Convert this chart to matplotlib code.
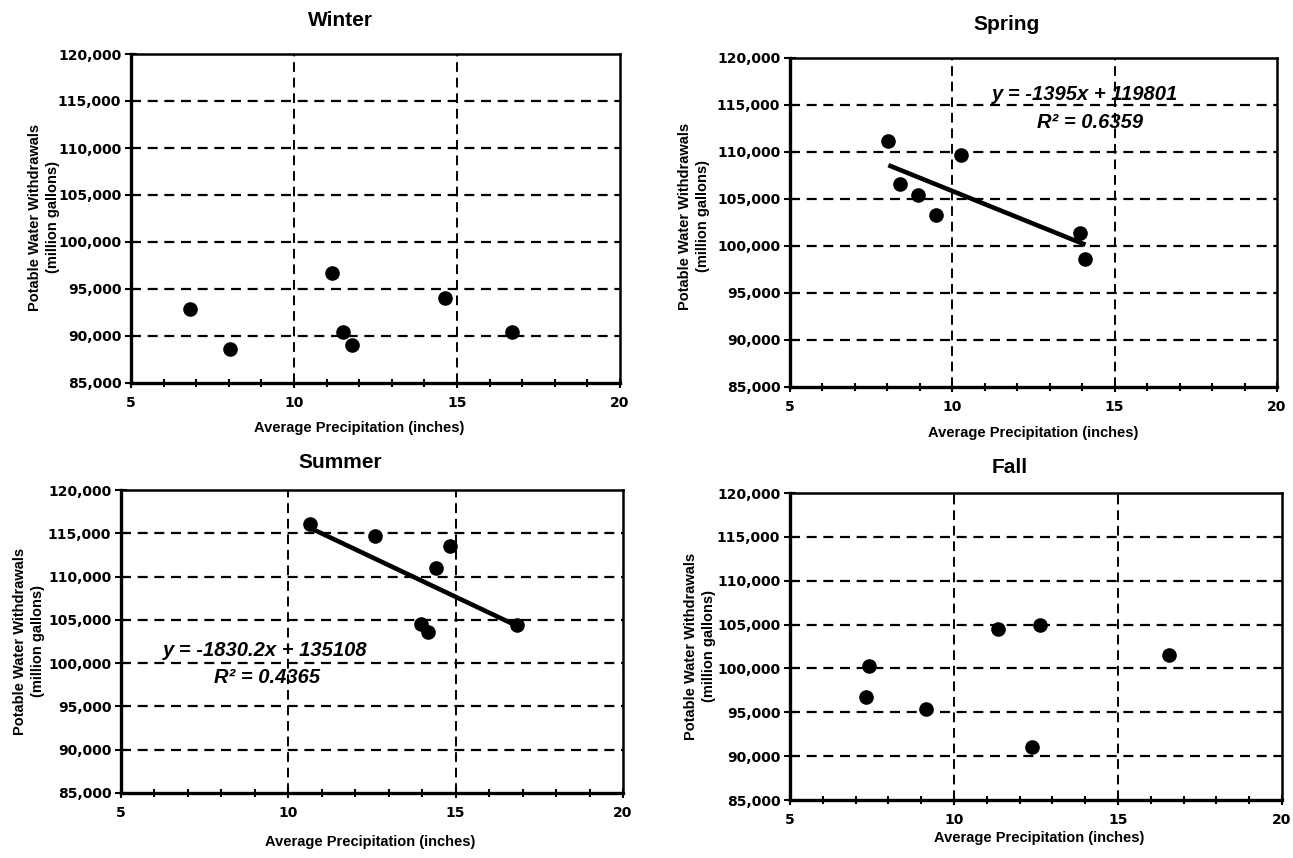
import matplotlib.pyplot as plt
from matplotlib.ticker import MultipleLocator

# Seasonal precipitation (inches) vs potable water withdrawals (million gallons)
winter_precip = [6.81, 8.05, 11.16, 11.51, 11.77, 14.63, 16.69]
winter_withdrawals = [92900, 88600, 96700, 90450, 89000, 94000, 90400]

spring_precip = [8.03, 8.40, 8.95, 9.51, 10.26, 13.93, 14.10]
spring_withdrawals = [111200, 106600, 105400, 103300, 109700, 101350, 98600]

summer_precip = [10.66, 12.59, 13.96, 14.17, 14.42, 14.83, 16.83]
summer_withdrawals = [116100, 114650, 104500, 103550, 111000, 113550, 104400]

fall_precip = [7.41, 7.31, 9.16, 11.33, 12.63, 12.39, 16.55]
fall_withdrawals = [100300, 96700, 95400, 104550, 104900, 91050, 101550]

# Linear trend lines (slope, intercept, R^2)
spring_fit = (-1395, 119801, 0.6359)
summer_fit = (-1830.2, 135108, 0.4365)

y_ticks = [85000, 90000, 95000, 100000, 105000, 110000, 115000, 120000]
y_tick_labels = ["85,000", "90,000", "95,000", "100,000", "105,000", "110,000", "115,000", "120,000"]
x_ticks = [5, 10, 15, 20]

W, H = 1293, 858
fig = plt.figure(figsize=(W / 100, H / 100), dpi=100)

arial = ["Liberation Sans", "DejaVu Sans"]


def box(left, right, top, bottom):
    return [left / W, 1 - bottom / H, (right - left) / W, (bottom - top) / H]


def setup(ax):
    ax.set_xlim(5, 20)
    ax.set_ylim(85000, 120000)
    ax.set_xticks(x_ticks)
    ax.set_xticklabels([str(t) for t in x_ticks])
    ax.xaxis.set_minor_locator(MultipleLocator(1))
    ax.set_yticks(y_ticks)
    ax.set_yticklabels(y_tick_labels)
    for lbl in ax.get_xticklabels() + ax.get_yticklabels():
        lbl.set_family("DejaVu Sans")
        lbl.set_fontweight("bold")
        lbl.set_fontsize(10)
    ax.tick_params(axis="y", which="major", direction="inout", length=8, width=1.5, pad=3)
    ax.tick_params(axis="x", which="major", direction="inout", length=7, width=1.5, pad=6)
    ax.tick_params(axis="x", which="minor", direction="inout", length=6, width=1.5)
    ax.tick_params(top=False, right=False)
    for y in y_ticks[1:-1]:
        ax.axhline(y, color="black", lw=1.6, ls=(0, (4.5, 3)), zorder=1)
    for x in [10, 15]:
        ax.axvline(x, color="black", lw=1.4, ls=(0, (5, 3)), zorder=1)
    ax.spines["left"].set_linewidth(2.4)
    ax.spines["bottom"].set_linewidth(2.4)
    ax.spines["top"].set_linewidth(1.8)
    ax.spines["right"].set_linewidth(1.8)


def labels(title, tx, ty, xx, xy, yx, yy):
    fig.text(tx / W, 1 - ty / H, title, family=arial, fontweight="bold",
             fontsize=15, ha="center", va="center")
    fig.text(xx / W, 1 - xy / H, "Average Precipitation (inches)", family=arial,
             fontweight="bold", fontsize=10.5, ha="center", va="center")
    fig.text(yx / W, 1 - yy / H, "Potable Water Withdrawals\n(million gallons)",
             family=arial, fontweight="bold", fontsize=10.5, rotation=90,
             ha="center", va="center", linespacing=1.35, multialignment="center")


def trend(ax, xs, fit, eq_pos, r2_pos):
    slope, intercept, r2 = fit
    x0, x1 = min(xs), max(xs)
    ax.plot([x0, x1], [slope * x0 + intercept, slope * x1 + intercept],
            color="black", lw=3.3, solid_capstyle="butt", zorder=3)
    eq = f"y = {slope:g}x + {intercept:g}"
    ax.text(*eq_pos, eq, family=arial, fontweight="bold", style="italic",
            fontsize=14.5, ha="center", va="center", zorder=5)
    ax.text(*r2_pos, f"R\u00b2 = {r2:.4f}", family=arial, fontweight="bold",
            style="italic", fontsize=14.5, ha="center", va="center", zorder=5)


panels = [
    ("Winter", box(131, 620, 54, 383), winter_precip, winter_withdrawals,
     (340, 21, 359, 428, 44, 217)),
    ("Spring", box(790, 1277, 58, 387), spring_precip, spring_withdrawals,
     (1007, 24, 1033, 433, 694, 216)),
    ("Summer", box(121, 623, 490, 793), summer_precip, summer_withdrawals,
     (340, 463, 370, 842, 29, 641)),
    ("Fall", box(790, 1282, 493, 800), fall_precip, fall_withdrawals,
     (1010, 467, 1039, 838, 700, 646)),
]

axes = {}
for name, rect, xs, ys, pos in panels:
    ax = fig.add_axes(rect)
    setup(ax)
    ax.plot(xs, ys, "o", color="black", markersize=9.5, zorder=4)
    labels(name, *pos)
    axes[name] = ax

trend(axes["Spring"], spring_precip, spring_fit, (14.08, 116100), (14.23, 113100))
trend(axes["Summer"], summer_precip, summer_fit, (9.32, 101450), (9.36, 98350))

fig.savefig("out.png", dpi=100)
